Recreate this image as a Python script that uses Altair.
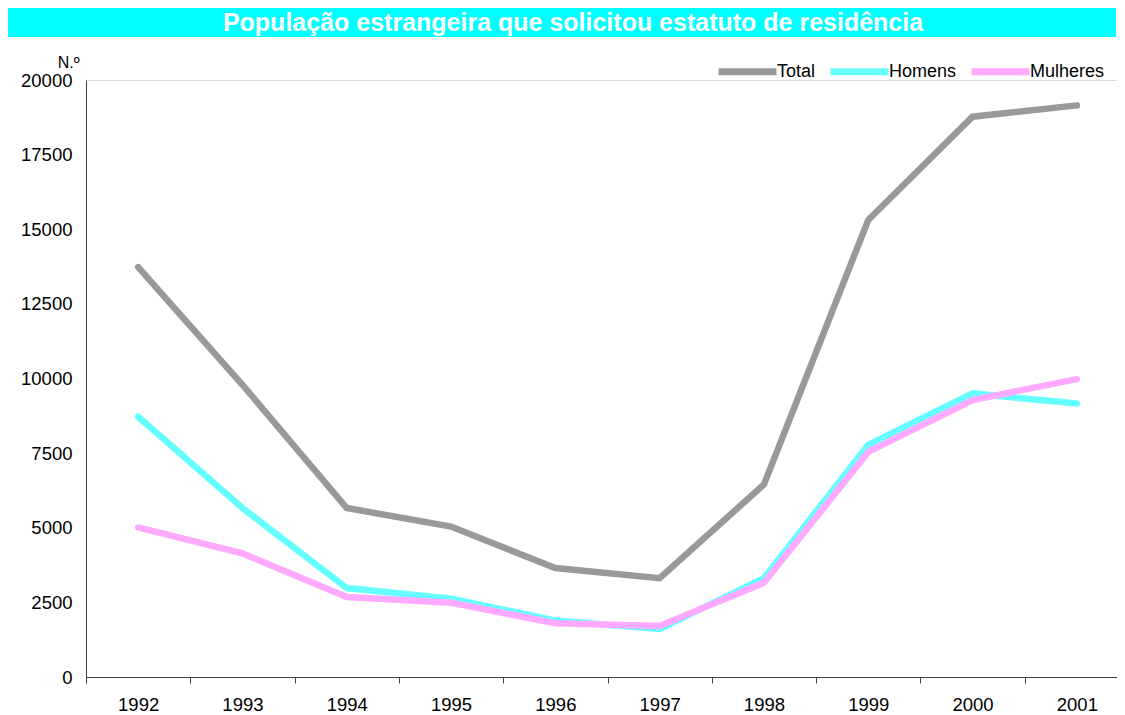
import altair as alt
import pandas as pd

years = ["1992", "1993", "1994", "1995", "1996", "1997", "1998", "1999", "2000", "2001"]
total = [13730, 9790, 5660, 5040, 3650, 3310, 6450, 15310, 18770, 19150]
homens = [8720, 5660, 2980, 2620, 1890, 1610, 3310, 7780, 9500, 9160]
mulheres = [5010, 4140, 2680, 2490, 1800, 1710, 3160, 7540, 9280, 9980]
series = ["Total", "Homens", "Mulheres"]
colors = ["#999999", "#66FFFF", "#FFAAFF"]
y_ticks = [0, 2500, 5000, 7500, 10000, 12500, 15000, 17500, 20000]
title_text = "População estrangeira que solicitou estatuto de residência"

rows = []
for name, vals in zip(series, [total, homens, mulheres]):
    for yr, v in zip(years, vals):
        rows.append({"Ano": yr, "Série": name, "Valor": v})
df = pd.DataFrame(rows)

FONT = "Liberation Sans"

lines = alt.Chart(df).mark_line(strokeWidth=6.5, strokeCap="round").encode(
    x=alt.X("Ano:O", sort=years,
            scale=alt.Scale(type="band", paddingInner=0, paddingOuter=0,
                            range=[0, 1043]),
            axis=alt.Axis(title=None, labelAngle=0, tickBand="extent", tickSize=6,
                          labelPadding=12, labelFontSize=18.5, labelFont=FONT,
                          labelColor="#000000", domainColor="#404040",
                          tickColor="#404040", grid=False)),
    y=alt.Y("Valor:Q", scale=alt.Scale(domain=[0, 20000], nice=False),
            axis=alt.Axis(title="N.º", titleAngle=0, titleX=-7, titleY=-13,
                          titleAlign="right", titleBaseline="alphabetic",
                          titleFont=FONT, titleFontSize=16, titleFontWeight="normal",
                          titleColor="#000000",
                          values=y_ticks, ticks=False, labelPadding=14,
                          labelFontSize=18.5, labelFont=FONT, labelColor="#000000",
                          domainColor="#404040", grid=False, format="d")),
    color=alt.Color("Série:N", sort=series,
                    scale=alt.Scale(domain=series, range=colors),
                    legend=alt.Legend(title=None, orient="none", direction="horizontal",
                                      legendX=629, legendY=-41,
                                      symbolType="stroke", symbolSize=3364,
                                      symbolStrokeWidth=7,
                                      labelOffset=alt.ExprRef(expr="-3"),
                                      labelFontSize=18, labelFont=FONT,
                                      labelColor="#000000", columnPadding=0,
                                      padding=0)),
)

bar_df = pd.DataFrame({"t": [title_text]})
bar = alt.Chart(bar_df).mark_rect(color="#00FFFF").encode(
    x=alt.value(-80), x2=alt.value(1030), y=alt.value(-76), y2=alt.value(-43)
)
title = alt.Chart(bar_df).mark_text(
    color="#FFFFFF", fontWeight="bold", fontSize=25, font=FONT,
    align="center", baseline="alphabetic"
).encode(x=alt.value(487), y=alt.value(-49.3), text="t:N")

chart = alt.layer(lines, bar, title).properties(
    width=1031, height=597,
    padding={"left": 78, "top": 72, "right": 0, "bottom": 38},
    autosize=alt.AutoSizeParams(type="none"),
).configure_view(stroke=None).configure(background="#FFFFFF")

chart.save("out.html", embed_options={"renderer": "svg", "actions": False})
